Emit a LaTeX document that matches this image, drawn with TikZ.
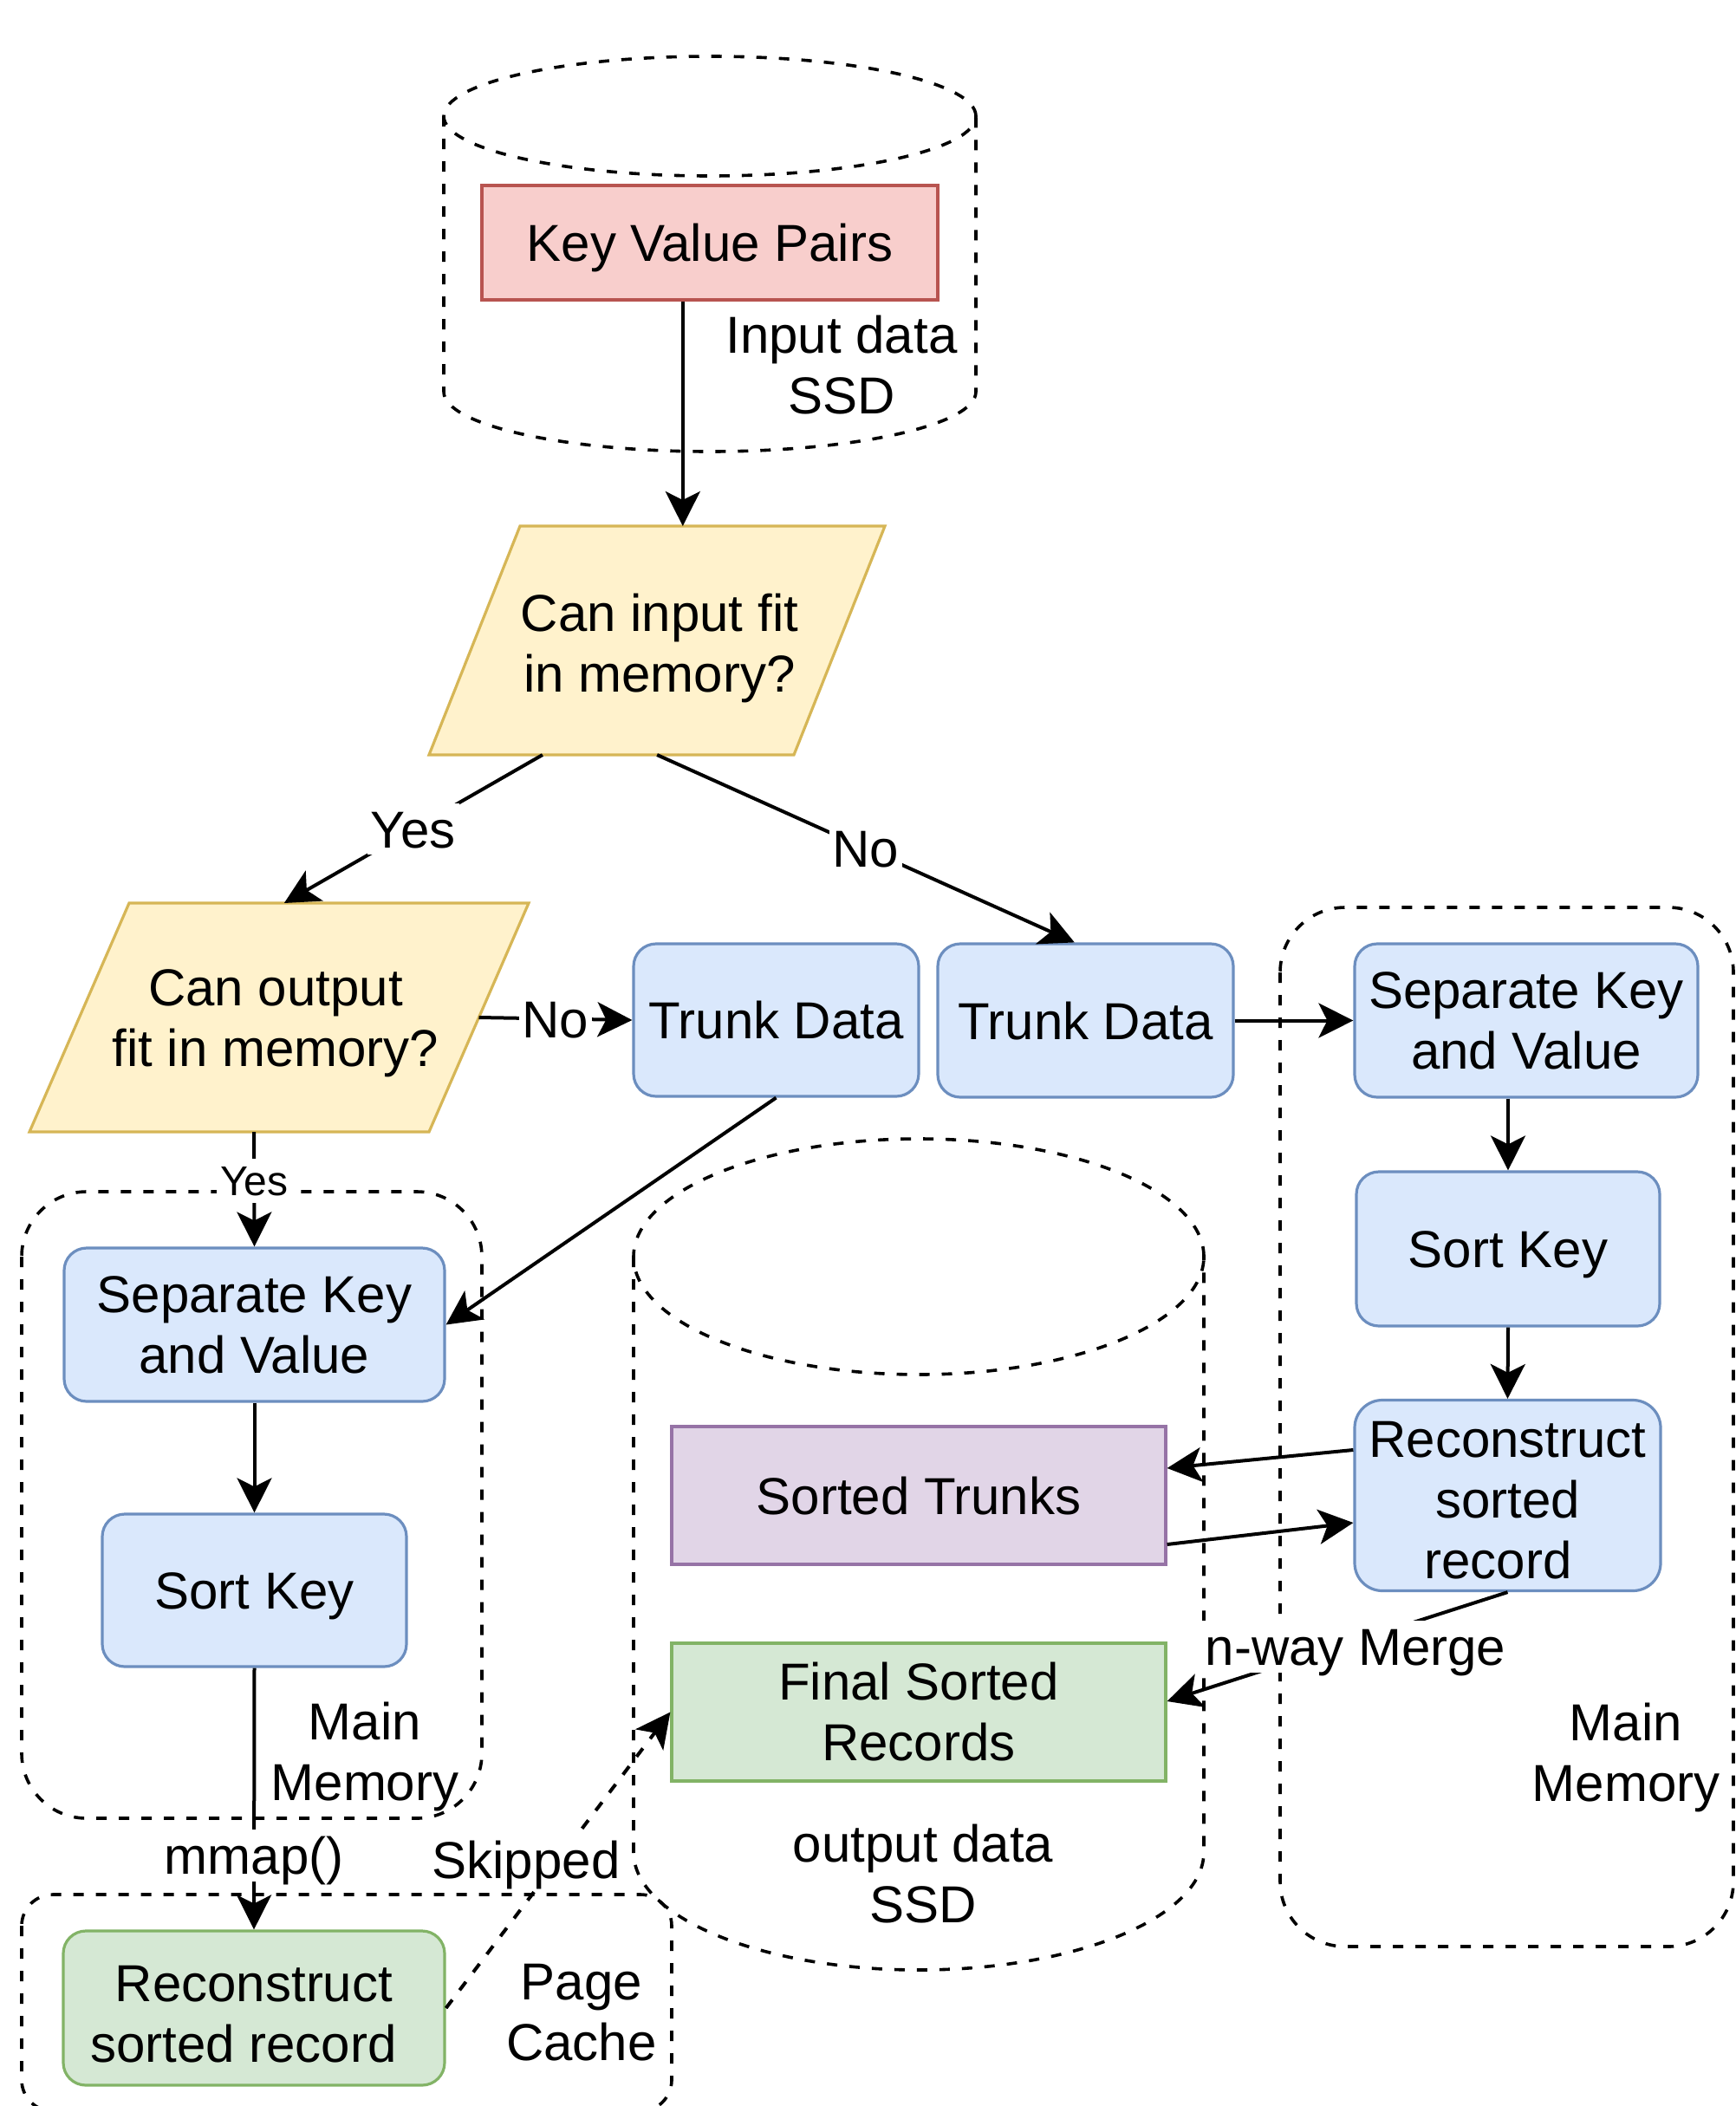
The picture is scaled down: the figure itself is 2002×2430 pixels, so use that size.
\documentclass[tikz,border=0pt]{standalone}
\usepackage{fontspec}
\setmainfont{Liberation Sans}
\usetikzlibrary{arrows.meta,calc}

\definecolor{redfill}{HTML}{F8CECC}
\definecolor{redline}{HTML}{B85450}
\definecolor{yelfill}{HTML}{FFF2CC}
\definecolor{yelline}{HTML}{D6B656}
\definecolor{bluefill}{HTML}{DAE8FC}
\definecolor{blueline}{HTML}{6C8EBF}
\definecolor{grnfill}{HTML}{D5E8D4}
\definecolor{grnline}{HTML}{82B366}
\definecolor{purfill}{HTML}{E1D5E7}
\definecolor{purline}{HTML}{9673A6}

\begin{document}
\begin{tikzpicture}[x=0.5pt, y=-0.5pt,
  txt/.style={font=\fontsize{30pt}{35pt}\selectfont, align=center, inner sep=0pt},
  sz/.style 2 args={minimum width=#1*0.5pt, minimum height=#2*0.5pt},
  plain/.style={txt, draw, line width=1.6pt},
  proc/.style={plain, draw=blueline, fill=bluefill, rounded corners=13pt},
  store/.style={plain, rectangle},
  oneline/.style={text height=21.6pt, text depth=0pt},
  frame/.style={draw, line width=1.8pt, dash pattern=on 6pt off 7pt},
  conn/.style={line width=2pt, -{Stealth[length=20pt, width=20pt, inset=5pt]}},
  lbl/.style={txt, fill=white, inner xsep=2pt, inner ysep=4pt, text height=21.6pt, text depth=0pt},
  small/.style={font=\fontsize{24pt}{28pt}\selectfont, text height=17.3pt},
  decision/.style={draw=yelline, fill=yelfill, line width=1.6pt},
]
\clip (0,0) rectangle (2002,2430);
\fill[white] (0,0) rectangle (2002,2430);

% input SSD cylinder
\draw[frame] (512,134) -- (512,452)
  arc[start angle=180, end angle=360, x radius=153.5pt, y radius=34.5pt] -- (1126,134);
\draw[frame] (819,134) ellipse [x radius=153.5pt, y radius=34.5pt];

% output SSD cylinder
\draw[frame] (731,1450) -- (731,2137)
  arc[start angle=180, end angle=360, x radius=164.5pt, y radius=68pt] -- (1389,1450);
\draw[frame] (1060,1450) ellipse [x radius=164.5pt, y radius=68pt];

% memory regions
\draw[frame, rounded corners=37.5pt] (25,1375) rectangle (556,2098);
\draw[frame, rounded corners=37.5pt] (1477,1047) rectangle (2000,2246);
\draw[frame, rounded corners=18pt] (25,2186) rectangle (775,2436);

% region captions
\node[txt] (inlbl) at (971,421) {Input data\\SSD};
\node[txt] (outlbl) at (1065,2162) {output data\\SSD};
\node[txt] (memleft) at (421,2027) {Main\\Memory};
\node[txt] (memright) at (1876,2028) {Main\\Memory};
\node[txt] (pagecache) at (671,2322) {Page\\Cache};

% decisions
\filldraw[decision] (600,607) coordinate (d1tl) -- (1021,607) coordinate (d1tr)
  -- (916,871) coordinate (d1br) -- (495,871) coordinate (d1bl) -- cycle;
\node[txt] (askin) at (761,748) {Can input fit\\in memory?};
\filldraw[decision] (149,1042) coordinate (d2tl) -- (610,1042) coordinate (d2tr)
  -- (495,1306) coordinate (d2br) -- (34,1306) coordinate (d2bl) -- cycle;
\node[txt] (askout) at (318,1181) {Can output\\fit in memory?};

% process boxes
\node[store, oneline, draw=redline, fill=redfill, sz={526}{132}] (kvp) at (819,280) {Key Value Pairs};
\node[proc, oneline, sz={329}{176}] (trunkA) at (895.5,1177) {Trunk Data};
\node[proc, oneline, sz={341}{177}] (trunkB) at (1252.5,1177.5) {Trunk Data};
\node[proc, sz={439}{177}] (sepL) at (293.5,1528.5) {Separate Key\\and Value};
\node[proc, oneline, sz={351}{176}] (sortL) at (293.5,1835) {Sort Key};
\node[proc, draw=grnline, fill=grnfill, sz={440}{178}] (recL) at (293,2317) {\rule{0pt}{28pt}Reconstruct\\sorted record\hspace*{12pt}};
\node[proc, sz={396}{177}] (sepR) at (1761,1177.5) {Separate Key\\and Value};
\node[proc, oneline, sz={350}{178}] (sortR) at (1740,1441) {Sort Key};
\node[proc, rounded corners=16pt, sz={353}{220}] (recR) at (1739.5,1725.5) {\rule{0pt}{26.5pt}Reconstruct\\sorted\\record\hspace*{11pt}};
\node[store, oneline, draw=purline, fill=purfill, sz={570}{159}] (trunks) at (1060,1725.5) {Sorted Trunks};
\node[store, draw=grnline, fill=grnfill, sz={570}{159}] (final) at (1060,1975.5) {Final Sorted\\Records};

% connectors
\coordinate (kvpout) at ($(kvp.south west)!0.441!(kvp.south east)$);
\draw[conn] (kvpout) -- (kvpout |- d1tl);
\draw[conn] ($(d1bl)!0.311!(d1br)$) -- node[lbl] {Yes} ($(d2tl)!0.388!(d2tr)$);
\draw[conn] ($(d1bl)!0.625!(d1br)$) -- node[lbl] {No} ($(trunkB.north west)!0.463!(trunkB.north east)$);
\draw[conn] ($(d2tr)!0.5!(d2br)$) -- node[lbl] {No} (trunkA.west);
\draw[conn] ($(d2bl)!0.562!(d2br)$) -- node[lbl, small, pos=0.425] {Yes} (sepL.north);
\draw[conn] (trunkA.south) -- (sepL.east);
\draw[conn] (trunkB.east) -- (sepR.west);
\draw[conn] (sortR.north |- sepR.south) -- (sortR.north);
\draw[conn] (sortR.south) -- (recR.north);
\draw[conn] (sepL.south) -- (sortL.north);
\draw[conn] (sortL.south) -- node[lbl, pos=0.717] {mmap()} (recL.north);
\draw[conn] ($(recR.west)+(0,-52.5)$) -- ($(trunks.east)+(0,-31.5)$);
\draw[conn] ($(trunks.east)+(0,56.5)$) -- ($(recR.west)+(0,31.5)$);
\draw[conn] (recR.south) -- node[lbl, xshift=10.5pt] {n-way Merge} ($(final.east)+(0,-12.5)$);
\draw[conn, dash pattern=on 6pt off 7pt] (recL.east) -- node[lbl, xshift=-18.5pt] {Skipped} (final.west);
\end{tikzpicture}
\end{document}
